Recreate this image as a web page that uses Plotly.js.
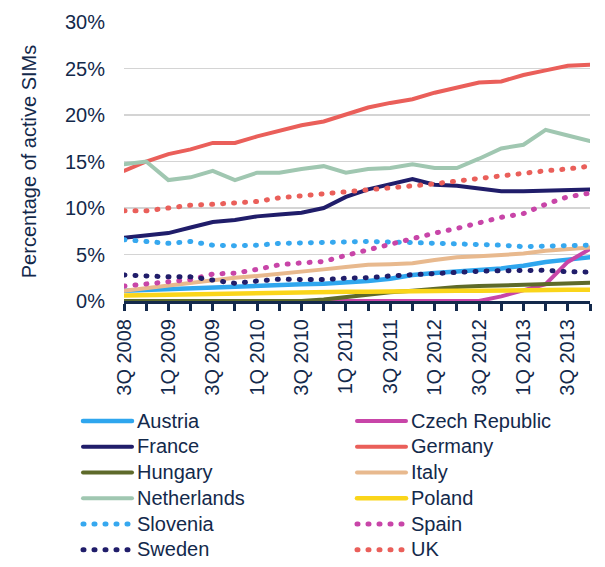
<!DOCTYPE html>
<html>
<head>
<meta charset="utf-8">
<script src="https://cdn.plot.ly/plotly-3.0.1.min.js"></script>
<style>
  html, body { margin: 0; padding: 0; background: #fff; }
  #chart { width: 605px; height: 567px; }
  path.js-line { stroke-linecap: round; }
  .legendtext { font-size: 20px !important; }
</style>
</head>
<body>
<div id="chart"></div>
<script>
const quarters = ["3Q 2008","4Q 2008","1Q 2009","2Q 2009","3Q 2009","4Q 2009","1Q 2010","2Q 2010",
  "3Q 2010","4Q 2010","1Q 2011","2Q 2011","3Q 2011","4Q 2011","1Q 2012","2Q 2012",
  "3Q 2012","4Q 2012","1Q 2013","2Q 2013","3Q 2013","4Q 2013"];
const tickLabels = quarters.map((q, i) => (i % 2 === 0 ? q : ""));
const yTickVals = [0, 5, 10, 15, 20, 25, 30];
const yTickText = ["0%", "5%", "10%", "15%", "20%", "25%", "30%"];

const austria     = [1.1,1.2,1.3,1.4,1.5,1.55,1.6,1.7,1.8,1.85,1.95,2.15,2.4,2.8,3.0,3.15,3.3,3.5,3.8,4.2,4.45,4.7];
const czech       = [0,0,0,0,0,0,0,0,0,0,0,0,0,0,0,0,0,0.5,1.2,1.8,4.2,5.6];
const france      = [6.8,7.1,7.3,7.9,8.5,8.7,9.1,9.3,9.5,10.0,11.2,12.0,12.5,13.1,12.5,12.4,12.1,11.8,11.8,11.9,11.9,12.0];
const germany     = [14.0,15.0,15.8,16.3,17.0,17.0,17.7,18.3,18.9,19.3,20.1,20.8,21.3,21.7,22.4,23.0,23.5,23.6,24.3,24.8,25.3,25.4];
const hungary     = [0,0,0,0,0,0,0,0,0,0.15,0.45,0.75,0.95,1.1,1.35,1.5,1.6,1.65,1.7,1.75,1.85,1.95];
const italy       = [1.1,1.4,1.7,2.0,2.3,2.5,2.7,2.9,3.15,3.4,3.65,3.9,3.95,4.05,4.4,4.7,4.8,4.9,5.1,5.4,5.6,5.75];
const netherlands = [14.7,15.0,13.0,13.3,14.0,13.0,13.8,13.8,14.2,14.5,13.8,14.2,14.3,14.7,14.3,14.3,15.3,16.4,16.8,18.4,17.8,17.2];
const poland      = [0.6,0.65,0.7,0.75,0.8,0.8,0.85,0.9,0.9,0.95,1.0,1.0,1.05,1.05,1.1,1.1,1.1,1.15,1.15,1.2,1.2,1.2];
const slovenia    = [6.6,6.35,6.2,6.4,6.0,5.95,6.0,6.2,6.25,6.3,6.4,6.4,6.35,6.3,6.2,6.1,6.05,6.0,5.85,5.85,5.95,6.0];
const spain       = [1.6,1.8,2.0,2.3,2.9,3.0,3.4,3.9,4.1,4.25,4.9,5.5,6.2,6.8,7.3,7.8,8.4,9.0,9.4,10.4,11.2,11.6];
const sweden      = [2.8,2.65,2.6,2.6,2.2,1.9,2.15,2.35,2.3,2.3,2.45,2.5,2.7,2.85,2.95,3.05,3.2,3.25,3.3,3.3,3.15,3.1];
const uk          = [9.7,9.7,10.0,10.3,10.4,10.5,10.7,11.1,11.3,11.5,11.7,11.9,12.1,12.3,12.6,12.9,13.2,13.4,13.7,14.0,14.2,14.5];

const navy = "#13294b";
const DOT = "1px,10px";

const series = [
  {name: "Austria", y: austria, color: "#2fa6ee", dash: "solid", width: 4.5},
  {name: "Czech Republic", y: czech, color: "#c845a8", dash: "solid", width: 4},
  {name: "France", y: france, color: "#201d6a", dash: "solid", width: 4},
  {name: "Germany", y: germany, color: "#ea5f5a", dash: "solid", width: 4},
  {name: "Hungary", y: hungary, color: "#5e6a2a", dash: "solid", width: 4},
  {name: "Italy", y: italy, color: "#e8b98e", dash: "solid", width: 4},
  {name: "Netherlands", y: netherlands, color: "#a0c7b1", dash: "solid", width: 4},
  {name: "Poland", y: poland, color: "#fad51a", dash: "solid", width: 4.5},
  {name: "Slovenia", y: slovenia, color: "#36a8ef", dash: DOT, width: 5},
  {name: "Spain", y: spain, color: "#c845a8", dash: DOT, width: 5},
  {name: "Sweden", y: sweden, color: "#201d6a", dash: DOT, width: 5},
  {name: "UK", y: uk, color: "#ea5f5a", dash: DOT, width: 5}
];

const traces = series.map(s => ({
  type: "scatter",
  mode: "lines",
  name: s.name,
  x: quarters,
  y: s.y,
  line: {color: s.color, width: s.width, dash: s.dash},
  hoverinfo: "skip"
}));

const font = {family: "Liberation Sans, Arial, sans-serif", color: navy};

const layout = {
  width: 605,
  height: 567,
  margin: {l: 124, r: 15, t: 22, b: 266, autoexpand: false},
  paper_bgcolor: "#ffffff",
  plot_bgcolor: "#ffffff",
  font: font,
  showlegend: true,
  legend: {
    orientation: "h",
    xref: "paper", yref: "paper",
    x: (78 - 124) / 466, xanchor: "left",
    y: (301 - 403) / 279, yanchor: "top",
    entrywidth: 210, entrywidthmode: "pixels",
    itemwidth: 49,
    font: {family: font.family, color: navy, size: 17.5},
    bgcolor: "rgba(0,0,0,0)",
    traceorder: "normal"
  },
  xaxis: {
    type: "category",
    categoryorder: "array",
    categoryarray: quarters,
    range: [0, 21],
    tickmode: "array",
    tickvals: quarters,
    ticktext: tickLabels,
    tickangle: -90,
    ticks: "outside",
    ticklen: 7,
    tickwidth: 3,
    tickcolor: navy,
    showline: true,
    linecolor: navy,
    linewidth: 3,
    showgrid: false,
    zeroline: false,
    layer: "below traces",
    tickfont: {family: font.family, color: navy, size: 20},
    fixedrange: true
  },
  yaxis: {
    range: [0, 30],
    tickmode: "array",
    tickvals: yTickVals,
    ticktext: yTickText,
    ticks: "",
    showline: false,
    showgrid: true,
    gridcolor: "#d4d4d4",
    gridwidth: 1.2,
    zeroline: false,
    ticklabelstandoff: 18,
    tickfont: {family: font.family, color: navy, size: 20},
    title: {text: "Percentage of active SIMs", font: {family: font.family, color: navy, size: 20}, standoff: 22},
    automargin: false,
    fixedrange: true
  }
};

Plotly.newPlot("chart", traces, layout, {displayModeBar: false, staticPlot: true});
</script>
</body>
</html>
